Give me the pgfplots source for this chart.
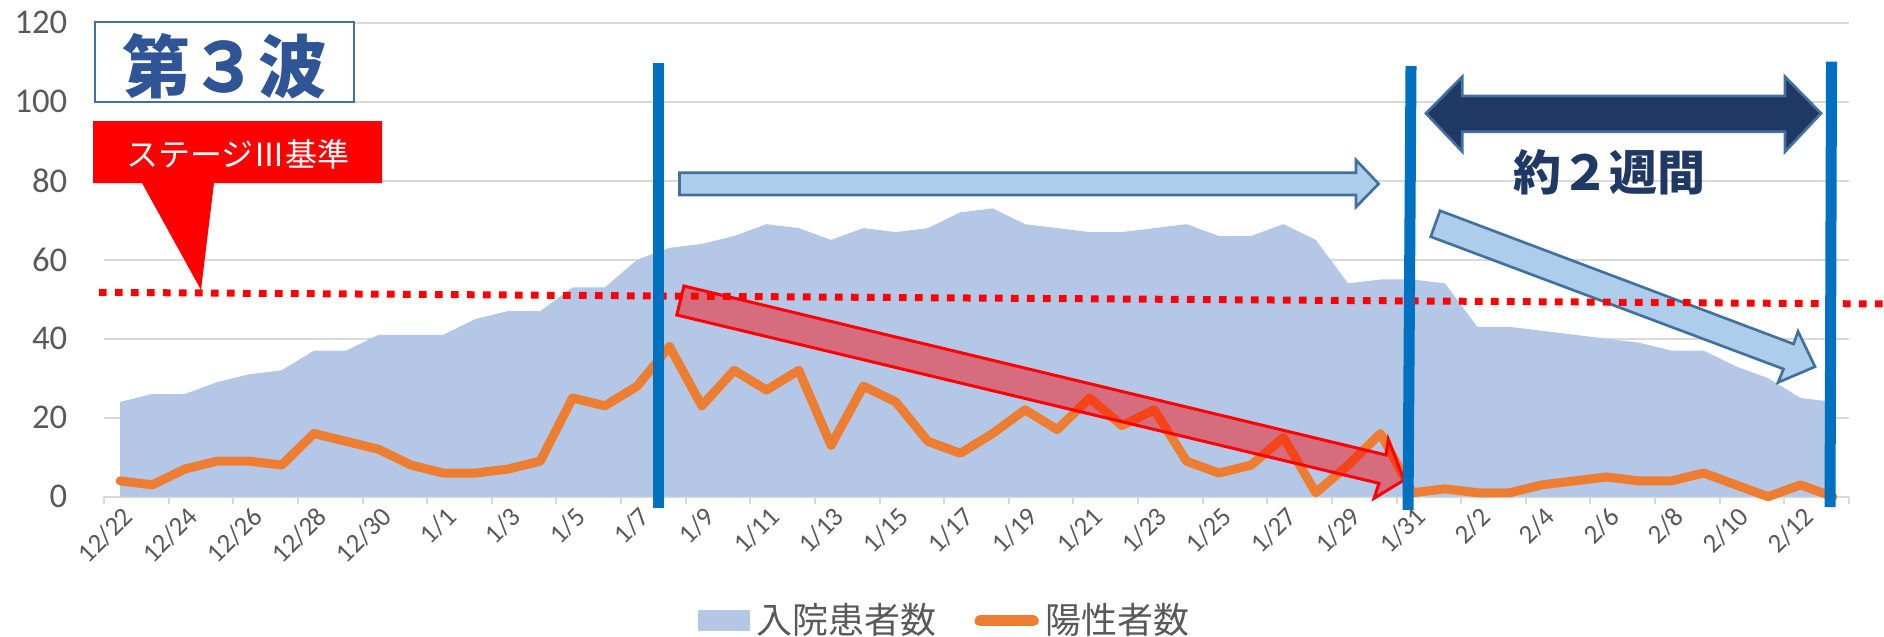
\documentclass[border=0pt]{standalone}
\usepackage{fontspec}
\setmainfont{Carlito}
\newfontfamily\cjk{Noto Sans CJK JP}
\usepackage{pgfplots}
\usepackage{pgfplotstable}
\pgfplotsset{compat=1.18}
\definecolor{areacol}{HTML}{B4C7E7}
\definecolor{linecol}{HTML}{ED7D31}
\definecolor{vline}{HTML}{0070C0}
\definecolor{ltblue}{HTML}{ADCDEA}
\definecolor{bord}{HTML}{41719C}
\definecolor{navy}{HTML}{203864}
\definecolor{titleblue}{HTML}{2F5597}
\definecolor{txtgray}{HTML}{595959}
\definecolor{gridgray}{HTML}{D9D9D9}

\pgfplotstableread{
x area pos
0 24 4
1 26 3
2 26 7
3 29 9
4 31 9
5 32 8
6 37 16
7 37 14
8 41 12
9 41 8
10 41 6
11 45 6
12 47 7
13 47 9
14 53 25
15 53 23
16 60 28
17 63 38
18 64 23
19 66 32
20 69 27
21 68 32
22 65 13
23 68 28
24 67 24
25 68 14
26 72 11
27 73 16
28 69 22
29 68 17
30 67 25
31 67 18
32 68 22
33 69 9
34 66 6
35 66 8
36 69 15
37 65 1
38 54 8
39 55 16
40 55 1
41 54 2
42 43 1
43 43 1
44 42 3
45 41 4
46 40 5
47 39 4
48 37 4
49 37 6
50 33 3
51 30 0
52 25 3
53 24 0
}\datatable

\begin{document}
\begin{tikzpicture}
\useasboundingbox (0,0) rectangle (565.2pt,190.8pt);
\begin{axis}[
  at={(31.2pt,41.79pt)}, anchor=south west,
  scale only axis, width=523.5pt, height=142.2pt,
  xmin=-0.5, xmax=53.5, ymin=0, ymax=120,
  axis line style={draw=none},
  ymajorgrids, grid style={gridgray, line width=0.6pt},
  ytick={0,20,...,120},
  xtick={0,2,...,52},
  xticklabels={12/22,12/24,12/26,12/28,12/30,1/1,1/3,1/5,1/7,1/9,1/11,1/13,1/15,1/17,1/19,1/21,1/23,1/25,1/27,1/29,1/31,2/2,2/4,2/6,2/8,2/10,2/12},
  major tick length=0pt,
  extra x ticks={-0.5,1.5,...,53.5},
  extra x tick labels={},
  extra x tick style={major tick length=2.1pt, tick align=outside, tick style={gridgray, line width=0.6pt}},
  xtick pos=bottom, ytick pos=left,
  /pgf/number format/assume math mode=true,
  yticklabel style={font=\fontsize{10.4}{12}\selectfont, text=txtgray, xshift=-7.5pt},
  xticklabel style={rotate=45, anchor=east, font=\fontsize{8.1}{9}\selectfont, text=txtgray, yshift=-5pt, xshift=2pt},
  clip=false,
  legend style={at={(0.483,-0.262)}, anchor=center, draw=none, fill=none,
    font=\cjk\fontsize{10.8}{13}\selectfont, text=txtgray,
    /tikz/every even column/.append style={column sep=9.5pt}},
  legend columns=2, legend cell align=left,
]
\addplot[fill=areacol, draw=none,
  legend image code/.code={\fill[areacol] (0pt,-3.15pt) rectangle (15.6pt,3.15pt);}]
  table[x=x,y=area]{\datatable} \closedcycle;
\addlegendentry{入院患者数}
\addplot[linecol, line width=2.7pt, line join=round, line cap=round,
  legend image code/.code={\draw[linecol, line width=3.3pt, line cap=round] (1.6pt,0pt) -- (17.6pt,0pt);}]
  table[x=x,y=pos]{\datatable};
\addlegendentry{陽性者数}
\end{axis}

\begin{scope}[x=0.3pt,y=-0.3pt,shift={(0pt,190.8pt)}]
% light blue arrows
\filldraw[fill=ltblue, draw=bord, line width=0.8pt, line join=miter]
  (679.5,172.7) -- (1356,172.7) -- (1356,160) -- (1378.6,183.8) -- (1356,207) -- (1356,195) -- (679.5,195) -- cycle;
\filldraw[fill=ltblue, draw=bord, line width=0.8pt, line join=miter]
  (1440,210.7) -- (1793.6,344) -- (1798,331.3) -- (1815,366.7) -- (1778,382.5) -- (1783.5,369) -- (1430.7,236.7) -- cycle;
% stage III dotted line
\draw[red, line width=2.1pt, dash pattern=on 2.3pt off 2.5pt] (99,292.3) -- (1884,304);
% red arrow
\filldraw[fill=red, fill opacity=0.45, draw=red, line width=0.9pt, line join=miter]
  (683.9,286) -- (1386,455) -- (1388.3,439.3) -- (1404,480) -- (1374,498.3) -- (1379,483.3) -- (676.8,315) -- cycle;
% callout
\fill[red] (93,121) -- (382,121) -- (382,183) -- (214,183) -- (201,290) -- (142,183) -- (93,183) -- cycle;
\node[text=white, font=\cjk\fontsize{9.6}{11}\selectfont] at (238,154.5) {ステージⅢ基準};
% title box
\filldraw[draw=bord, fill=white, line width=0.5pt] (95,22) rectangle (354,101.7);
\node[font=\cjk\bfseries\fontsize{20.5}{22}\selectfont, text=titleblue] at (224.5,66.7) {第３波};
% vertical lines
\draw[vline, line width=3.3pt] (658.5,63) -- (658.5,508);
\draw[vline, line width=3.3pt] (1411,66) -- (1408,510);
\draw[vline, line width=3.3pt] (1831.5,61.7) -- (1830,507);
% double arrow
\filldraw[fill=navy, draw=bord, line width=0.8pt, line join=miter]
  (1425.9,113.3) -- (1462.3,76.7) -- (1462.3,96) -- (1785,96) -- (1785,76.7) -- (1821,113.3) -- (1785,151.7) -- (1785,131.7) -- (1462.3,131.7) -- (1462.3,151.7) -- cycle;
\node[font=\cjk\bfseries\fontsize{14.4}{16}\selectfont, text=navy] at (1609,172.5) {約２週間};
\end{scope}
\end{tikzpicture}
\end{document}
